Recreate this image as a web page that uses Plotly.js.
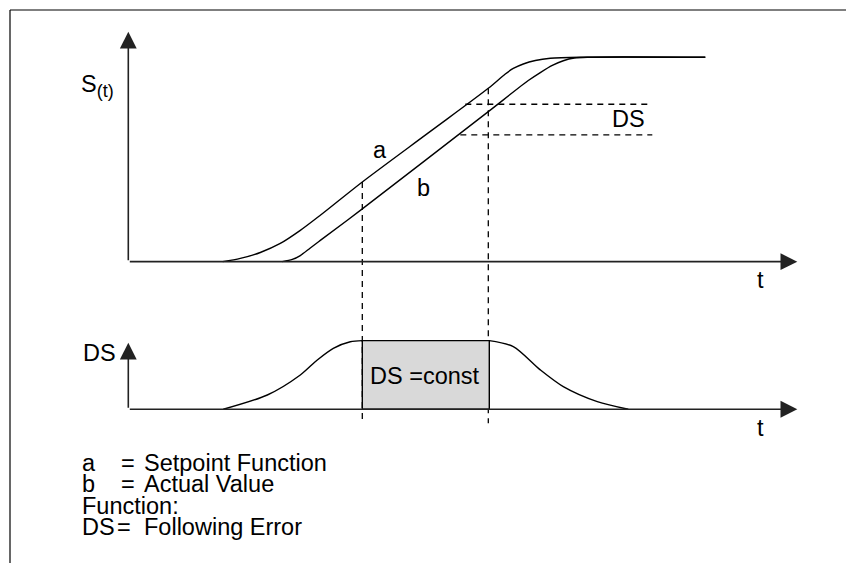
<!DOCTYPE html>
<html>
<head>
<meta charset="utf-8">
<script src="https://cdn.plot.ly/plotly-3.0.1.min.js"></script>
<style>
  html, body { margin: 0; padding: 0; background: #fff; }
  #chart { width: 846px; height: 563px; }
</style>
</head>
<body>
<div id="chart"></div>
<script>
// ── Data (t in time units, S / DS normalised to 1) ───────────────────────────
const setpointT = [9.44, 11.2, 13.2, 15.2, 17.2, 19.2, 23.4, 30, 36, 37.7, 38.5, 39.5, 40.7, 42.2, 45.2, 57.7];
const setpointS = [0, 0.016, 0.045, 0.089, 0.153, 0.227, 0.39, 0.63, 0.848, 0.918, 0.945, 0.967, 0.984, 0.995, 1.0, 1.0];

const actualT = [15.4, 16.4, 17.2, 18.2, 19.2, 23.4, 36, 40.0, 41.2, 42.4, 43.5, 44.6, 45.9, 57.7];
const actualS = [0, 0.011, 0.03, 0.067, 0.104, 0.258, 0.734, 0.886, 0.925, 0.96, 0.983, 0.996, 1.0, 1.0];

const errRiseT  = [9.5, 13.9, 17.2, 18.9, 20.5, 22.2, 23.4];
const errRiseDS = [0, 0.208, 0.5, 0.719, 0.889, 0.985, 1.0];
const errFallT  = [36.1, 38.5, 41.2, 43.5, 46.9, 50];
const errFallDS = [1.0, 0.913, 0.574, 0.33, 0.111, 0];

const constBoxT  = [23.4, 36.1];   // DS = const interval
const markerT    = [23.4, 36];     // dashed verticals
const markerTopS = [0.39, 0.848];  // where they meet curve a
const dsLevelsS  = [0.77, 0.62];   // horizontal DS band
const dsLevelStartT = [33.7, 33.2];
const dsLevelEndT   = 52.4;

// key below the chart
const keySymbols = ['a', 'b', 'Function:', 'DS'];
const keyTexts   = ['Setpoint Function', 'Actual Value', '', 'Following Error'];

const T_END = 66.9, S_TOP = 1.125, DS_TOP = 0.97, DASH_BOTTOM_S = -0.79;

const FONT = 'Liberation Sans, Arial, Helvetica, sans-serif';
const INK = '#000';
const TXT = 23.5;

// ── Traces ───────────────────────────────────────────────────────────────────
const curve = { type: 'scatter', mode: 'lines', hoverinfo: 'skip', showlegend: false };
const dashed = { color: INK, width: 1.3, dash: '6px,5px' };
const solid = { color: INK, width: 1.4, shape: 'spline', smoothing: 0.8 };

const traces = [
  { ...curve, x: setpointT, y: setpointS, line: solid },
  { ...curve, x: actualT,   y: actualS,   line: solid },
  // grey box DS = const
  { ...curve, x: [constBoxT[0], constBoxT[0], constBoxT[1], constBoxT[1], constBoxT[0]],
    y: [0, 1, 1, 0, 0], yaxis: 'y2', fill: 'toself', fillcolor: '#d9d9d9',
    line: { color: INK, width: 1.4 } },
  { ...curve, x: errRiseT, y: errRiseDS, yaxis: 'y2', line: solid },
  { ...curve, x: errFallT, y: errFallDS, yaxis: 'y2', line: solid },
];

markerT.forEach((t, i) => {
  traces.push({ ...curve, x: [t, t], y: [markerTopS[i], DASH_BOTTOM_S], line: dashed });
});
dsLevelsS.forEach((s, i) => {
  traces.push({ ...curve, x: [dsLevelStartT[i], dsLevelEndT], y: [s, s], line: dashed });
});

// ── Axes with arrows ─────────────────────────────────────────────────────────
const arrow = (x, y, ax, ay, yref) => ({
  x, y, ax, ay, xref: 'x', yref, axref: 'x', ayref: yref,
  text: '', showarrow: true, arrowhead: 2, arrowsize: 2.1, arrowwidth: 1.6, arrowcolor: '#222',
});

const label = (text, x, y, yref, size = TXT, extra = {}) => ({
  text, x, y, xref: 'x', yref, showarrow: false,
  font: { family: FONT, size, color: INK }, ...extra,
});

const note = (text, px, py) => ({
  text, x: px / 846, y: 1 - py / 563, xref: 'paper', yref: 'paper',
  xanchor: 'left', yanchor: 'middle', showarrow: false,
  font: { family: FONT, size: TXT, color: INK },
});

const annotations = [
  arrow(T_END, 0, 0, 0, 'y'),
  arrow(0, S_TOP, 0, 0, 'y'),
  arrow(T_END, 0, 0, 0, 'y2'),
  arrow(0, DS_TOP, 0, 0, 'y2'),

  label('S<sub><span style="font-size:18px">(t)</span></sub>', -3.1, 0.86, 'y'),
  label('a', 25.2, 0.547, 'y'),
  label('b', 29.5, 0.361, 'y'),
  label('DS', 50, 0.698, 'y'),
  label('t', 63.2, -0.09, 'y'),
  label('DS', -2.9, 0.82, 'y2'),
  label('DS =const', 29.7, 0.485, 'y2'),
  label('t', 63.2, -0.27, 'y2'),
];

// key rows: symbol column, "=" column, text column
const keyRowY = [463, 484, 506, 527];
const keyEqX  = [119, 119, null, 115];
keySymbols.forEach((sym, i) => {
  annotations.push(note(sym, 80, keyRowY[i]));
  if (keyTexts[i]) {
    annotations.push(note('=', keyEqX[i], keyRowY[i]));
    annotations.push(note(keyTexts[i], 142, keyRowY[i]));
  }
});

const hidden = { visible: false, showgrid: false, zeroline: false, fixedrange: true };

Plotly.newPlot('chart', traces, {
  width: 846, height: 563,
  margin: { l: 0, r: 0, t: 0, b: 0 },
  paper_bgcolor: '#fff', plot_bgcolor: '#fff',
  showlegend: false,
  xaxis:  { ...hidden, range: [-12.83, 71.77] },
  yaxis:  { ...hidden, range: [-1.474, 1.280] },
  yaxis2: { ...hidden, range: [-2.241, 5.966], overlaying: 'y' },
  shapes: [
    { type: 'line', xref: 'paper', yref: 'paper', x0: 10 / 846, x1: 1, y0: 1 - 10 / 563, y1: 1 - 10 / 563, line: { color: INK, width: 1.2 } },
    { type: 'line', xref: 'paper', yref: 'paper', x0: 10 / 846, x1: 10 / 846, y0: 0, y1: 1 - 10 / 563, line: { color: INK, width: 1.2 } },
  ],
  annotations,
}, { displayModeBar: false, staticPlot: true });
</script>
</body>
</html>
